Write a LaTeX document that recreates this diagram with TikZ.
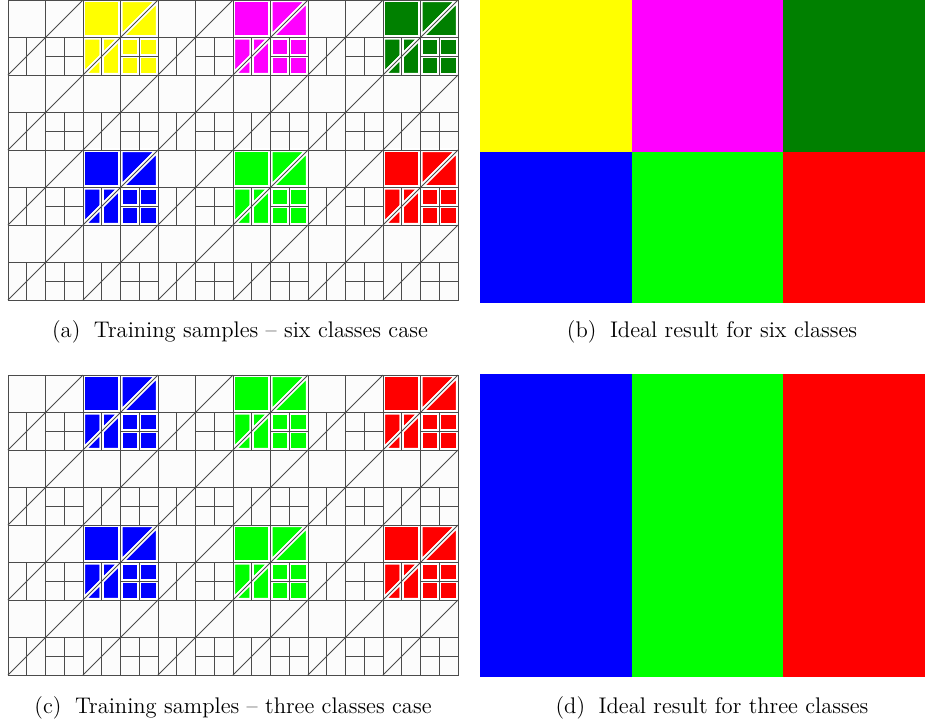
\documentclass[tikz,border=0pt]{standalone}
\usepackage{xcolor}
\definecolor{bgc}{RGB}{252,252,252}
\definecolor{gridc}{RGB}{75,75,75}
\definecolor{cyel}{RGB}{255,255,0}
\definecolor{cmag}{RGB}{255,0,255}
\definecolor{cgrn}{RGB}{0,128,0}
\definecolor{cblu}{RGB}{0,0,255}
\definecolor{clim}{RGB}{0,255,0}
\definecolor{cred}{RGB}{255,0,0}
\tikzset{
  gl/.style={draw=gridc,line width=0.45pt},
  piece/.style={draw=white,line width=2.2pt,line join=round},
  capt/.style={font=\fontsize{11.3}{13}\selectfont, anchor=base, inner sep=0pt}
}
\newcommand{\tilelines}[2]{%
  \draw[gl] (#1,#2) rectangle ++(75,75);
  \draw[gl] (#1+37.5,#2) -- ++(0,75);
  \draw[gl] (#1,#2+37.5) -- ++(75,0);
  \draw[gl] (#1,#2+75) -- ++(75,-75);
  \draw[gl] (#1+18.75,#2+37.5) -- ++(0,37.5);
  \draw[gl] (#1+56.25,#2+37.5) -- ++(0,37.5);
  \draw[gl] (#1+37.5,#2+56.25) -- ++(37.5,0);
}
\newcommand{\filltile}[3]{%
  \path[piece,fill=#3] (#1,#2) rectangle ++(37.5,37.5);
  \path[piece,fill=#3] (#1+37.5,#2) -- (#1+75,#2) -- (#1+37.5,#2+37.5) -- cycle;
  \path[piece,fill=#3] (#1+75,#2) -- (#1+75,#2+37.5) -- (#1+37.5,#2+37.5) -- cycle;
  \path[piece,fill=#3] (#1,#2+37.5) -- (#1+18.75,#2+37.5) -- (#1+18.75,#2+56.25) -- (#1,#2+75) -- cycle;
  \path[piece,fill=#3] (#1,#2+75) -- (#1+18.75,#2+56.25) -- (#1+18.75,#2+75) -- cycle;
  \path[piece,fill=#3] (#1+18.75,#2+37.5) -- (#1+37.5,#2+37.5) -- (#1+18.75,#2+56.25) -- cycle;
  \path[piece,fill=#3] (#1+18.75,#2+56.25) -- (#1+37.5,#2+37.5) -- (#1+37.5,#2+75) -- (#1+18.75,#2+75) -- cycle;
  \foreach \aa in {0,18.75}{\foreach \bb in {0,18.75}{
    \path[piece,fill=#3] (#1+37.5+\aa,#2+37.5+\bb) rectangle ++(18.75,18.75);}}
}
\begin{document}
\begin{tikzpicture}[x=0.5pt,y=-0.5pt]
\useasboundingbox (0,0) rectangle (925,720);
% left panels background
\fill[bgc] (8,0) rectangle (458,300);
\fill[bgc] (8,375) rectangle (458,675);
% coloured tiles (a)
\foreach \i/\j/\c in {1/0/cyel,3/0/cmag,5/0/cgrn,1/2/cblu,3/2/clim,5/2/cred}{
  \filltile{8+75*\i}{75*\j}{\c}}
% coloured tiles (c)
\foreach \i/\j/\c in {1/0/cblu,3/0/clim,5/0/cred,1/2/cblu,3/2/clim,5/2/cred}{
  \filltile{8+75*\i}{375+75*\j}{\c}}
% grid lines
\foreach \py in {0,375}{
  \foreach \i in {0,...,5}{
    \foreach \j in {0,...,3}{
      \tilelines{8+75*\i}{\py+75*\j}}}}
% right panels
\fill[cyel] (480,0) rectangle (632,152);
\fill[cmag] (632,0) rectangle (783,152);
\fill[cgrn] (783,0) rectangle (925,152);
\fill[cblu] (480,152) rectangle (632,303);
\fill[clim] (632,152) rectangle (783,303);
\fill[cred] (783,152) rectangle (925,303);
\fill[cblu] (480,374) rectangle (632,677);
\fill[clim] (632,374) rectangle (783,677);
\fill[cred] (783,374) rectangle (925,677);
% captions
\node[capt] (capa) at (240,337) {(a)\hspace{0.6em}Training samples -- six classes case};
\node[capt] (capb) at (712,337) {(b)\hspace{0.6em}Ideal result for six classes};
\node[capt] (capc) at (233,713) {(c)\hspace{0.6em}Training samples -- three classes case};
\node[capt] (capd) at (712,713) {(d)\hspace{0.6em}Ideal result for three classes};
\end{tikzpicture}
\end{document}
